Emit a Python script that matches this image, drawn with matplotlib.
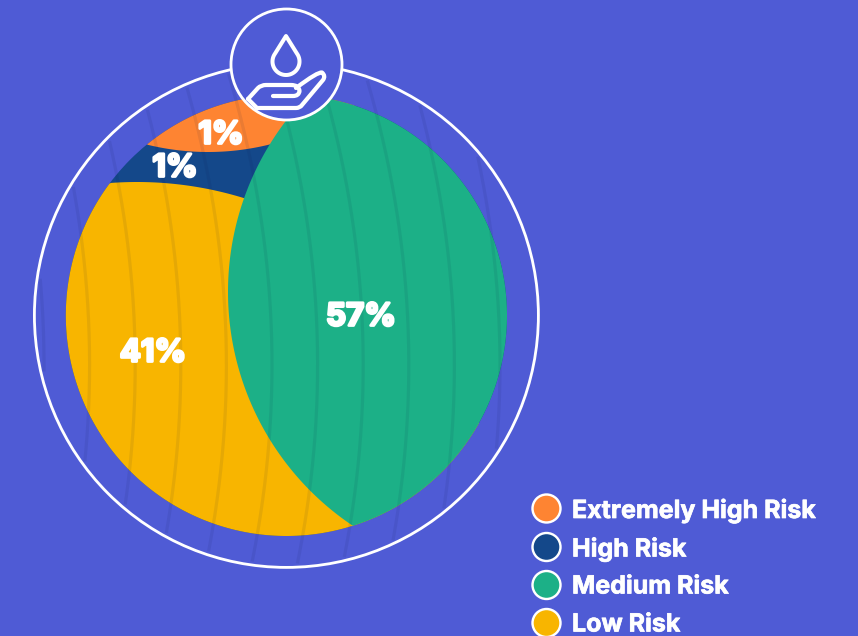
import numpy as np
import matplotlib
matplotlib.use("Agg")
import matplotlib.pyplot as plt
import matplotlib.patheffects as pe
from matplotlib.patches import Circle, Polygon, PathPatch
from matplotlib.path import Path

categories = ["Extremely High Risk", "High Risk", "Medium Risk", "Low Risk"]
values = [1, 1, 57, 41]
colors = ["#FE8432", "#14488A", "#1CB087", "#F8B500"]

BG = "#4F5BD5"
PX = 72 / 100  # one pixel in points at 100 dpi
CENTER = (286.4, 315.4)
DISC_R = 220.6
RING_R = 252.0

fig = plt.figure(figsize=(8.58, 6.36), dpi=100, facecolor=BG)
ax = fig.add_axes([0, 0, 1, 1])
ax.set_xlim(0, 858)
ax.set_ylim(636, 0)
ax.axis("off")


def lens(c1, r1, c2, r2, n=1500):
    """Outline of the overlap of two circles (convex, so sorted by angle)."""
    t = np.linspace(0, 2 * np.pi, n, endpoint=False)
    a = np.c_[c1[0] + r1 * np.cos(t), c1[1] + r1 * np.sin(t)]
    b = np.c_[c2[0] + r2 * np.cos(t), c2[1] + r2 * np.sin(t)]
    a = a[np.hypot(a[:, 0] - c2[0], a[:, 1] - c2[1]) <= r2]
    b = b[np.hypot(b[:, 0] - c1[0], b[:, 1] - c1[1]) <= r1]
    pts = np.vstack([a, b])
    mid = pts.mean(axis=0)
    return pts[np.argsort(np.arctan2(pts[:, 1] - mid[1], pts[:, 0] - mid[0]))]


# Petal-shaped segments: each one is the disc cut by a larger circle
ax.add_patch(Circle(CENTER, DISC_R, fc=colors[1], ec="none", zorder=2))
cuts = {0: ((208.0, -104.0), 256.0), 3: ((137.0, 545.0), 363.0), 2: ((509.5, 291.9), 281.5)}
for i in (0, 3, 2):
    c, r = cuts[i]
    ax.add_patch(Polygon(lens(CENTER, DISC_R, c, r), closed=True, fc=colors[i], ec="none", zorder=3))

# Faint bowed stripes running across the disc, stopping at the outer ring
ys = np.linspace(40, 590, 600)
for k in range(11):
    xs = 44 + 45.6 * k - (ys - 365) ** 2 / 1950
    inside = np.hypot(xs - CENTER[0], ys - CENTER[1]) < RING_R - 3
    ax.plot(xs[inside], ys[inside], color="#0B1440", alpha=0.08, lw=3.2 * PX,
            solid_capstyle="butt", zorder=4)

ax.add_patch(Circle(CENTER, RING_R, fc="none", ec="white", lw=2.8 * PX, zorder=5))

# Badge with the water drop and open hand
badge = (286.5, 64.5)
ax.add_patch(Circle(badge, 55.5, fc=BG, ec="white", lw=2.8 * PX, zorder=6))

t = np.radians(np.linspace(-35, 215, 80))
drop = np.c_[286 + 13.5 * np.cos(t), 61.5 + 13.5 * np.sin(t)]
drop = np.vstack([[[286, 36]], drop, [[286, 36]]])
ax.add_patch(Polygon(drop, closed=True, fc="none", ec="white", lw=4 * PX,
                     joinstyle="round", zorder=7))

M, L, C = Path.MOVETO, Path.LINETO, Path.CURVE3
hand_pts = [(248, 99), (258, 88), (261, 85), (266, 85), (291, 85), (299, 85), (299.5, 91),
            (299, 96), (293, 96), (273, 96)]
hand_codes = [M, L, C, C, L, C, C, C, C, L]
ax.add_patch(PathPatch(Path(hand_pts, hand_codes), fc="none", ec="white", lw=4.2 * PX,
                       capstyle="round", joinstyle="round", zorder=7))
palm_pts = [(248, 99), (257, 108), (296, 108), (300, 108), (302, 105), (323, 80), (326, 76),
            (322, 72.5), (318, 71.5), (296, 88)]
palm_codes = [M, L, L, C, C, L, C, C, C, L]
ax.add_patch(PathPatch(Path(palm_pts, palm_codes), fc="none", ec="white", lw=4.2 * PX,
                       capstyle="round", joinstyle="round", zorder=7))

# Percentage labels on the segments, thickened with a white outline
heavy = [pe.withStroke(linewidth=2.0, foreground="white")]
label_font = dict(family="Inter", weight="bold", color="white", ha="center", va="center", zorder=8)
label_pos = [(221, 135.5), (175, 168.5), (361, 317.5), (153, 353.5)]
for v, (x, y) in zip(values, label_pos):
    ax.text(x, y, f"{v}%", fontsize=22.5, path_effects=heavy, **label_font)

# Legend
legend_y = [508.5, 547, 585, 623]
legend_weight = [pe.withStroke(linewidth=0.5, foreground="white")]
for name, col, y in zip(categories, colors, legend_y):
    ax.add_patch(Circle((546.5, y), 14, fc=col, ec="white", lw=2.4 * PX, zorder=5, clip_on=False))
    ax.text(572, y + 2, name, family="Inter", weight="bold", fontsize=18, color="white",
            ha="left", va="center", path_effects=legend_weight, zorder=8)

fig.savefig("out.png", dpi=100, facecolor=BG)
